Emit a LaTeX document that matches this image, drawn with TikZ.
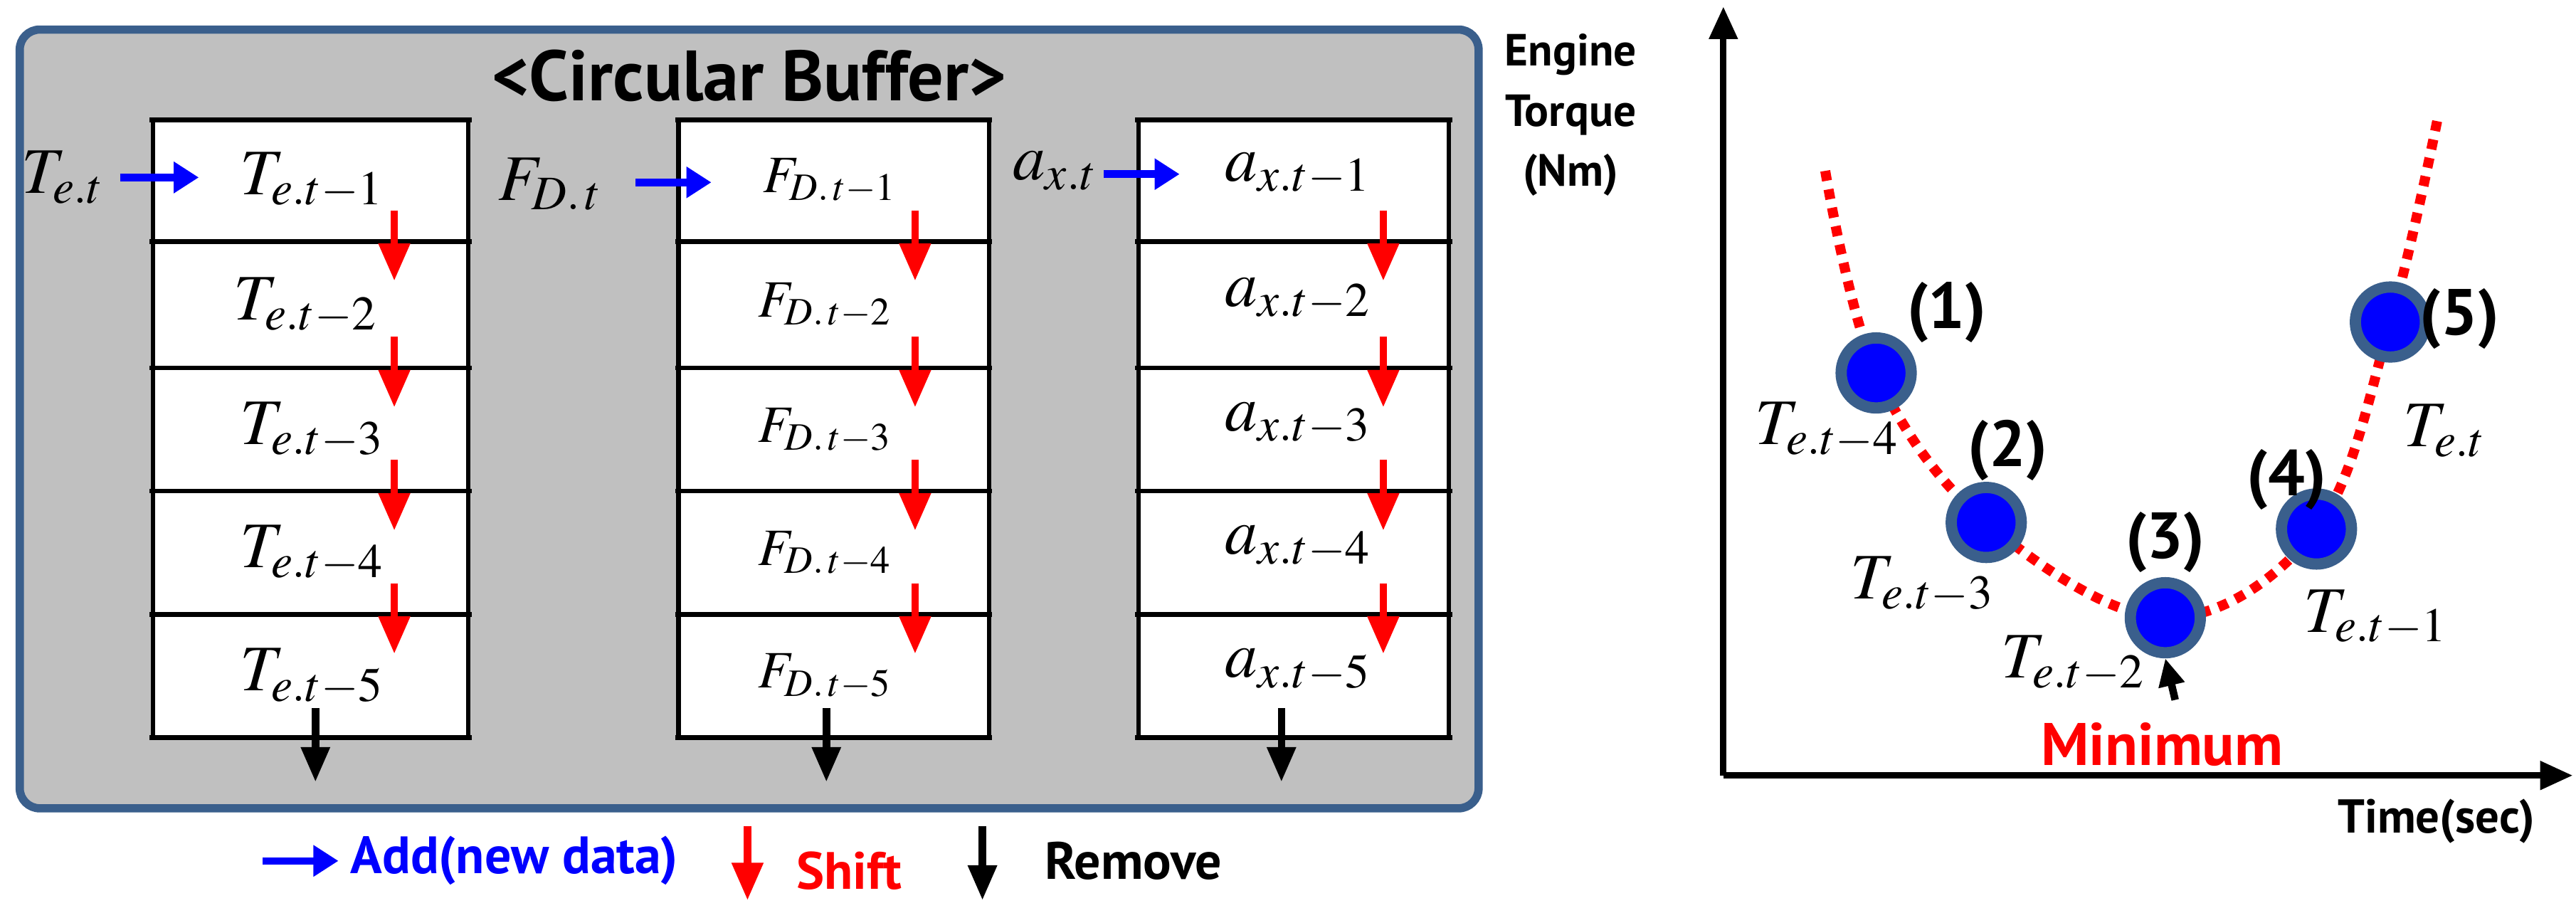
\documentclass[tikz,border=0pt]{standalone}
\usepackage{mathptmx}
\usepackage[no-math]{fontspec}
\setmainfont{PT Sans}
\usetikzlibrary{arrows.meta}
\definecolor{ring}{RGB}{58,95,140}
\definecolor{panel}{RGB}{192,192,192}
\begin{document}
\begin{tikzpicture}[x=0.02309cm,y=-0.02309cm,
  cell/.style={line width=1.8pt},
  sblu/.style={draw=blue,line width=3pt,-{Triangle[width=12pt,length=10pt]}},
  sred/.style={draw=red,fill=red,line width=3pt,-{Triangle[width=12pt,length=15pt]}},
  sblk/.style={draw=black,line width=3pt,-{Triangle[width=11pt,length=14pt]}},
  mth/.style={font=\fontsize{26}{28}\selectfont},
  fmth/.style={font=\fontsize{21}{24}\selectfont},
  bld/.style={font=\fontsize{21}{24}\selectfont\bfseries},
  num/.style={font=\fontsize{26}{28}\selectfont\bfseries},
  pt/.style={circle,fill=blue,draw=ring,line width=4.5pt,minimum size=28pt,inner sep=0pt}]
\useasboundingbox (0,0) rectangle (1568,555.6);
\draw[fill=panel,draw=ring,line width=3.3pt,rounded corners=8pt] (12,18) rectangle (900,492);
\node[font=\fontsize{28.5}{30}\selectfont\bfseries] (title) at (456,46) {<Circular Buffer>};
% boxes
\foreach \xa/\xb in {93/285,413/602,693/882}{
  \fill[white] (\xa,73) rectangle (\xb,449);
  \draw[cell] (\xa,73) -- (\xa,449) (\xb,73) -- (\xb,449);
  \foreach \yy in {73,147,224,299,374,449}{\draw[cell] (\xa-2,\yy) -- (\xb+2,\yy);}
}
% labels
\node[mth] (t1) at (190,110) {$T_{e.t-1}$};
\node[mth] (t2) at (186,186) {$T_{e.t-2}$};
\node[mth] (t3) at (190,262) {$T_{e.t-3}$};
\node[mth] (t4) at (190,337) {$T_{e.t-4}$};
\node[mth] (t5) at (190,412) {$T_{e.t-5}$};
\node[fmth] (f1) at (505,110) {$F_{D.\,t-1}$};
\node[fmth] (f2) at (502,186) {$F_{D.\,t-2}$};
\node[fmth] (f3) at (502,262) {$F_{D.\,t-3}$};
\node[fmth] (f4) at (502,337) {$F_{D.\,t-4}$};
\node[fmth] (f5) at (502,412) {$F_{D.\,t-5}$};
\foreach \i/\yy in {1/106,2/182,3/258,4/333,5/408}{
  \node[mth] (a\i) at (790,\yy) {$a_{x.t-\i}$};}
\node[mth] (te) at (38,108) {$T_{e.t}$};
\node[mth] (fd) at (335,112) {$F_{D.\,t}$};
\node[mth] (ax) at (642,104) {$a_{x.t}$};
% blue arrows
\coordinate (b1s) at (73,108); \coordinate (b1e) at (121,108);
\coordinate (b2s) at (387,111); \coordinate (b2e) at (433,111);
\coordinate (b3s) at (672,106); \coordinate (b3e) at (718,106);
\draw[sblu] (b1s) -- (b1e); \draw[sblu] (b2s) -- (b2e); \draw[sblu] (b3s) -- (b3e);
% red shift arrows
\foreach \xx/\n in {240/T,557/F,842/A}{
  \foreach \yy/\k in {147/1,224/2,299/3,374/4}{
    \coordinate (r\n\k s) at (\xx,\yy-19); \coordinate (r\n\k e) at (\xx,\yy+24);
    \draw[sred] (r\n\k s) -- (r\n\k e);}}
% black remove arrows
\foreach \xx/\n in {192/T,503/F,780/A}{
  \coordinate (k\n s) at (\xx,431); \coordinate (k\n e) at (\xx,476);
  \draw[sblk] (k\n s) -- (k\n e);}
% legend
\coordinate (lbs) at (160,524); \coordinate (lbe) at (206,524);
\draw[sblu] (lbs) -- (lbe);
\node[bld,text=blue,anchor=west] (ladd) at (208,524) {Add(new data)};
\coordinate (lrs) at (455,503); \coordinate (lre) at (455,548);
\draw[sred] (lrs) -- (lre);
\node[bld,text=red] (lshift) at (517,530) {Shift};
\coordinate (lks) at (598,503); \coordinate (lke) at (598,548);
\draw[sblk] (lks) -- (lke);
\node[font=\fontsize{21}{24}\selectfont\bfseries] (lrem) at (690,524) {Remove};
% chart
\coordinate (o) at (1049,472); \coordinate (yt) at (1049,4); \coordinate (xt) at (1566,472);
\draw[line width=2.6pt,-{Triangle[width=11pt,length=13pt]}] (o) -- (yt);
\draw[line width=2.6pt,-{Triangle[width=11pt,length=13pt]}] (o) -- (xt);
\node[font=\fontsize{18}{24}\selectfont\bfseries,align=center] (ylab) at (956,70) {Engine\\Torque\\(Nm)};
\node[font=\fontsize{19}{22}\selectfont\bfseries] (xlab) at (1483,500) {Time(sec)};
\draw[red,line width=4pt,dash pattern=on 4pt off 3.5pt] plot[smooth,tension=0.6] coordinates
  {(1111,104) (1142,227) (1209,318) (1318,376) (1410,322) (1455,196) (1484,71)};
\node[pt] (p1) at (1142,227) {};
\node[pt] (p2) at (1209,318) {};
\node[pt] (p3) at (1318,376) {};
\node[pt] (p4) at (1410,322) {};
\node[pt] (p5) at (1455,196) {};
\node[num] (n1) at (1185,190) {(1)};
\node[num] (n2) at (1222,274) {(2)};
\node[num] (n3) at (1318,330) {(3)};
\node[num] (n4) at (1392,292) {(4)};
\node[num] (n5) at (1497,194) {(5)};
\node[mth] (c4) at (1112,262) {$T_{e.t-4}$};
\node[mth] (c3) at (1170,356) {$T_{e.t-3}$};
\node[mth] (c2) at (1262,404) {$T_{e.t-2}$};
\node[mth] (c1) at (1446,376) {$T_{e.t-1}$};
\node[mth] (c0) at (1488,262) {$T_{e.t}$};
\coordinate (ms) at (1324,426);
\draw[sblk,-{Triangle[width=10pt,length=11pt]}] (ms) -- (p3.south);
\node[font=\fontsize{24}{26}\selectfont\bfseries,text=red] (minl) at (1316,453) {Minimum};
\end{tikzpicture}
\end{document}
